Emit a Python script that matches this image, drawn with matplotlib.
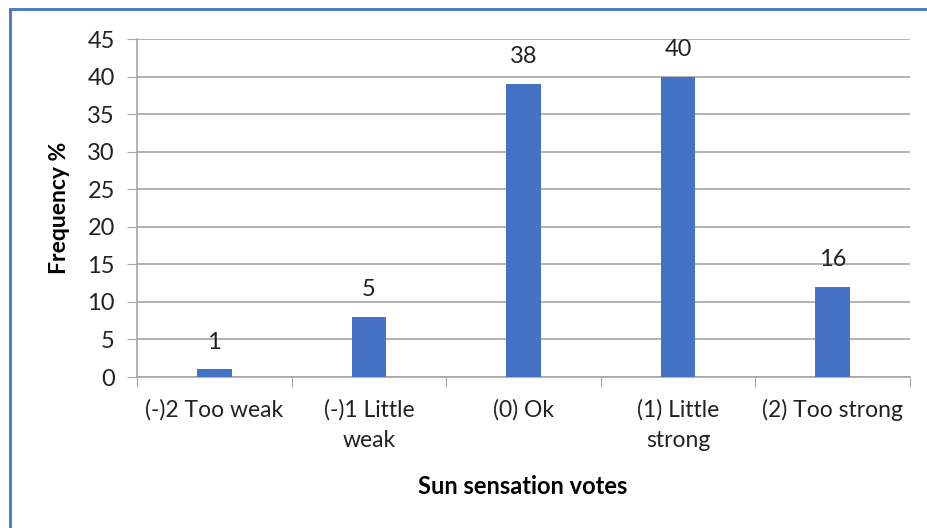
import numpy as np
import matplotlib.pyplot as plt
from matplotlib.patches import Rectangle

categories = ["(-)2 Too weak", "(-)1 Little\nweak", "(0) Ok", "(1) Little\nstrong", "(2) Too strong"]
heights = [1, 8, 39, 40, 12]          # bar heights as drawn
labels = ["1", "5", "38", "40", "16"]  # data labels as printed

plt.rcParams['font.family'] = ['Lato', 'DejaVu Sans']

W, H = 927, 528
fig = plt.figure(figsize=(W / 100, H / 100), dpi=100)
ax = fig.add_axes([137 / W, 1 - 377 / H, (910 - 137) / W, (377 - 39) / H])

x = np.arange(len(categories))
ax.bar(x, heights, width=0.225, color='#4472C4', zorder=3)
for xi, h, lab in zip(x, heights, labels):
    ax.annotate(lab, (xi, h), xytext=(0, 19.5), textcoords='offset points',
                ha='center', va='center', fontsize=17, color='#222222')

ax.set_xlim(-0.5, len(categories) - 0.5)
ax.set_ylim(0, 45)
ax.set_yticks(range(0, 46, 5))
ax.yaxis.grid(True, color='#a6a6a6', lw=1.2, zorder=0)
ax.tick_params(axis='y', length=7, color='#a6a6a6', labelsize=17, pad=9, labelcolor='#222222')

# x ticks at category boundaries, labels at centers
ax.set_xticks(np.arange(-0.5, len(categories), 1))
ax.set_xticklabels([])
ax.set_xticks(x, minor=True)
ax.set_xticklabels(categories, minor=True, fontsize=16.5, color='#222222', linespacing=1.55)
ax.tick_params(axis='x', which='major', length=7, color='#a6a6a6', direction='out')
ax.tick_params(axis='x', which='minor', length=0, pad=16)

for s in ['top', 'right']:
    ax.spines[s].set_visible(False)
for s in ['left', 'bottom']:
    ax.spines[s].set_color('#a6a6a6')
    ax.spines[s].set_linewidth(1.2)

ax.set_ylabel("Frequency %", fontsize=16.5, fontweight='bold', labelpad=12)
fig.text(523 / W, 1 - 486 / H, "Sun sensation votes", fontsize=17, fontweight='bold',
         ha='center', va='center')

# outer blue frame
fig.patches.append(Rectangle((10 / W, -0.1), 1.2, 1 - 9 / H + 0.1, transform=fig.transFigure,
                             fill=False, edgecolor='#4472C4', lw=2))

fig.savefig("out.png", dpi=100)
